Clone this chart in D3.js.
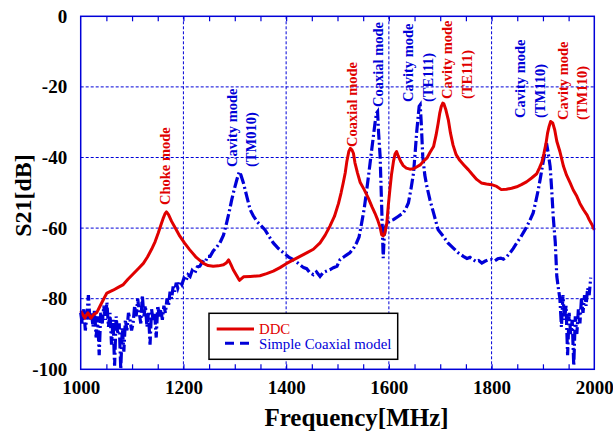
<!DOCTYPE html>
<html><head><meta charset="utf-8">
<script src="https://cdn.jsdelivr.net/npm/d3@7"></script>
<style>html,body{margin:0;padding:0;background:#fff;}svg{display:block;}</style>
</head><body>
<svg id="chart" width="613" height="433"></svg>
<script>
// ---- data ----
const xTicks = [1000, 1200, 1400, 1600, 1800, 2000];
const yTicks = [0, -20, -40, -60, -80, -100];
const seriesNames = ["DDC", "Simple Coaxial model"];

const ddcFreq = [1000,1002,1008,1014,1020,1025,1031,1038,1045,1051,1057,1063,1073,1083,1092,1102,1112,1122,1130,1138,1145,1151,1156,1161,1164,1167,1171,1177,1185,1193,1202,1212,1225,1239,1248,1258,1268,1278,1284,1288,1293,1297,1303,1309,1313,1317,1330,1349,1362,1375,1388,1401,1414,1427,1440,1453,1466,1476,1485,1494,1502,1507,1511,1515,1518,1522,1525,1528,1531,1534,1539,1544,1552,1560,1567,1573,1578,1583,1586,1589,1592,1596,1599,1602,1605,1609,1612,1615,1618,1623,1628,1634,1641,1648,1654,1661,1667,1674,1680,1687,1692,1696,1699,1702,1705,1707,1711,1716,1720,1725,1731,1738,1746,1755,1763,1771,1780,1790,1800,1810,1819,1829,1839,1849,1858,1868,1878,1888,1893,1898,1902,1906,1909,1912,1915,1919,1923,1927,1933,1940,1946,1953,1959,1966,1972,1979,1986,1990,1995,2000];
const ddcS21 = [-83.5,-84,-85.5,-84,-85.5,-84.5,-84,-82,-80,-78.4,-78,-77.6,-76.8,-76,-74.5,-73,-71.5,-70,-68.2,-66,-63.8,-61.4,-59.2,-57.1,-56,-55.4,-56.2,-58.1,-60.2,-62.3,-64.2,-66.1,-68.3,-70,-70.6,-70.8,-70.7,-70.4,-69.8,-69,-70.5,-71.8,-73.3,-74.8,-74.3,-73.8,-73.7,-73.5,-72.9,-72.2,-71.2,-70,-69,-68,-67,-66,-64.2,-62,-59.5,-56.7,-53,-50,-47.3,-44.4,-41.3,-38.3,-37.4,-37.8,-38.8,-41.5,-44.4,-47,-49.1,-51.5,-53.9,-55.8,-57.6,-59.8,-61.9,-62.2,-61.5,-58.6,-53.5,-49.1,-45,-41.1,-39,-38.3,-39.5,-41.1,-42.3,-43,-43.3,-43.2,-42.7,-42.1,-41.1,-40.2,-38.6,-36.9,-33.6,-30.3,-27.5,-25.6,-24.6,-24.8,-26.5,-29.5,-33.1,-36.5,-39.2,-40.8,-42.1,-43.5,-44.9,-46.2,-47.2,-47.5,-47.7,-48.2,-49.1,-49,-48.7,-48.3,-47.7,-46.9,-45.8,-44.6,-43,-41.3,-38.8,-36,-33.1,-31.2,-29.8,-30.2,-32.2,-35.4,-38.3,-42.5,-45,-47.2,-49.2,-51,-53,-54.8,-56.3,-57.6,-58.9,-60.5,-61.9];

const coaxFreq = [1000,1003,1006,1009,1012,1015,1018,1021,1024,1027,1030,1033,1036,1039,1042,1045,1048,1051,1054,1057,1060,1063,1066,1069,1072,1075,1078,1081,1084,1087,1090,1093,1096,1099,1102,1105,1108,1111,1114,1117,1120,1123,1126,1129,1132,1135,1138,1141,1144,1147,1150,1153,1156,1159,1162,1165,1168,1171,1174,1177,1180,1183,1186,1189,1193,1197,1201,1205,1209,1213,1217,1222,1227,1232,1237,1242,1247,1252,1258,1264,1271,1278,1284,1289,1294,1299,1304,1307,1309,1312,1317,1323,1330,1336,1343,1351,1359,1367,1375,1385,1395,1405,1414,1422,1427,1434,1440,1446,1453,1459,1466,1472,1478,1485,1492,1499,1505,1512,1518,1524,1531,1537,1542,1547,1552,1557,1561,1565,1569,1573,1576,1578,1580,1583,1586,1589,1591,1593,1596,1602,1609,1618,1628,1633,1638,1643,1648,1651,1654,1657,1659,1661,1663,1666,1670,1674,1680,1687,1696,1706,1715,1725,1735,1745,1752,1758,1764,1770,1775,1781,1787,1793,1800,1806,1812,1818,1823,1829,1836,1842,1849,1857,1865,1873,1881,1886,1891,1896,1900,1904,1907,1910,1914,1917,1920,1924,1927,1930,1933,1936,1939,1942,1945,1948,1951,1954,1957,1960,1963,1966,1969,1972,1975,1978,1981,1984,1987,1990,1993,1996,2000];
const coaxS21 = [-84,-87,-83,-89,-85,-79,-86,-84,-88,-83,-91,-85,-96,-84,-87,-82,-86,-81,-88,-84,-93,-86,-99,-85,-90,-87,-100,-88,-95,-86,-89,-84,-86,-89,-87,-82,-85,-80,-84,-87,-79,-85,-82,-88,-84,-93,-83,-86,-84,-91,-82,-85,-83,-86,-82,-84,-80,-82,-78,-80,-76.5,-78,-75.5,-77,-75,-76,-74.2,-75,-73.2,-73.7,-72,-72.8,-71,-70.8,-69.5,-69.8,-68,-68,-66.5,-65.5,-64.2,-62,-58.6,-55.5,-52,-49,-46.3,-44.8,-44,-45,-47.3,-50.8,-54.8,-56.5,-58.1,-59.3,-60.5,-62.4,-64.2,-65.8,-67,-68.2,-68.9,-69.8,-70.4,-71.2,-71.5,-72.6,-73.2,-72.4,-73.7,-72.6,-72.2,-71.8,-71.2,-70.8,-68.9,-68.2,-67.6,-67,-65.8,-64.2,-62.5,-58.6,-54.5,-49.1,-44.5,-39.7,-35,-30.3,-27.4,-27,-33,-39.7,-53.9,-68.5,-62.3,-60,-58.6,-58,-57.6,-56.7,-55.7,-54.5,-52.9,-49,-44.4,-39,-33.1,-28.5,-25.5,-25.1,-30,-39.7,-45,-48.2,-52,-55.7,-60.5,-62.3,-64.2,-65.6,-67,-68,-68.6,-68.3,-68.9,-69.5,-69.2,-69.9,-69.4,-69,-68.9,-69.3,-68.7,-68.5,-68.8,-68.2,-67,-65.8,-64.2,-62.5,-60.5,-58.3,-55.7,-52.5,-49.1,-45,-41.6,-38.5,-36,-38.5,-42.5,-49,-56.7,-64,-73.7,-77,-80,-88,-79,-86,-82,-96,-84,-90,-86,-99,-85,-90,-83,-87,-80,-84,-79,-82,-77,-79,-74];

const annotations = [
  {lines:["Choke mode"], x:165.3, y:205, color:"#e00000"},
  {lines:["Cavity mode","(TM010)"], x:231.7, y:167, color:"#0000d8"},
  {lines:["Coaxial mode"], x:352.3, y:147, color:"#e00000"},
  {lines:["Coaxial mode"], x:378.3, y:107, color:"#0000d8"},
  {lines:["Cavity mode","(TE111)"], x:408.3, y:102, color:"#0000d8"},
  {lines:["Cavity mode","(TE111)"], x:447.3, y:99, color:"#e00000"},
  {lines:["Cavity mode","(TM110)"], x:520, y:118, color:"#0000d8"},
  {lines:["Cavity mode","(TM110)"], x:562.7, y:120, color:"#e00000"}
];

// ---- drawing ----
const RED = "#e00000", BLUE = "#0000d8";
const serif = "'Liberation Serif','Times New Roman',serif";
const svg = d3.select("#chart");
const L = 80.7, R = 594.3, T = 16.3, B = 369.3;
const x = d3.scaleLinear().domain([1000, 2000]).range([L, R]);
const y = d3.scaleLinear().domain([-100, 0]).range([B, T]);

// grid
const grid = svg.append("g").attr("stroke", BLUE).attr("stroke-width", 1).attr("stroke-dasharray", "3,2");
grid.selectAll("line.v").data(xTicks.slice(1, -1)).join("line")
  .attr("x1", d => x(d)).attr("x2", d => x(d)).attr("y1", T).attr("y2", B);
grid.selectAll("line.h").data(yTicks.slice(1, -1)).join("line")
  .attr("y1", d => y(d)).attr("y2", d => y(d)).attr("x1", L).attr("x2", R);

// minor ticks (top and bottom, inward)
const minor = d3.range(1050, 2000, 50);
const tb = svg.append("g").attr("transform", `translate(0,${B})`)
  .call(d3.axisBottom(x).tickValues(minor).tickSize(-5).tickFormat(""));
const tt = svg.append("g").attr("transform", `translate(0,${T})`)
  .call(d3.axisTop(x).tickValues(minor).tickSize(-5).tickFormat(""));
[tb, tt].forEach(g => { g.select(".domain").remove(); g.selectAll("line").attr("stroke", BLUE).attr("stroke-width", 1.2); });

// tick labels
const fmt = d => String(d);
const xa = svg.append("g").attr("transform", `translate(0,${B})`)
  .call(d3.axisBottom(x).tickValues(xTicks).tickSize(0).tickPadding(11.5).tickFormat(fmt));
const ya = svg.append("g").attr("transform", `translate(${L},0)`)
  .call(d3.axisLeft(y).tickValues(yTicks).tickSize(0).tickPadding(13.5).tickFormat(fmt));
[xa, ya].forEach(g => {
  g.select(".domain").remove();
  g.selectAll("text").attr("font-family", serif).attr("font-weight", "bold").attr("font-size", 19).attr("fill", "#000");
});

// curves
const line = d3.line().x(d => x(d[0])).y(d => y(d[1]));
const coaxPts = coaxFreq.map((f, i) => [f, coaxS21[i]]);
const ddcPts = ddcFreq.map((f, i) => [f, ddcS21[i]]);
svg.append("path").datum(coaxPts).attr("d", line).attr("fill", "none")
  .attr("stroke", BLUE).attr("stroke-width", 3.2).attr("stroke-dasharray", "11,3,2,3");
svg.append("path").datum(ddcPts).attr("d", line).attr("fill", "none")
  .attr("stroke", RED).attr("stroke-width", 3).attr("stroke-linejoin", "round");

// frame
svg.append("rect").attr("x", L).attr("y", T).attr("width", R - L).attr("height", B - T)
  .attr("fill", "none").attr("stroke", BLUE).attr("stroke-width", 1.5);

// annotations
annotations.forEach(a => {
  a.lines.forEach((t, i) => {
    svg.append("text").attr("transform", `translate(${a.x + i * 19.5},${a.y}) rotate(-90)`)
      .attr("dy", "0.35em").attr("font-family", serif).attr("font-weight", "bold")
      .attr("font-size", 14.5).attr("fill", a.color).text(t);
  });
});

// legend
const lg = svg.append("g");
lg.append("rect").attr("x", 209).attr("y", 313.3).attr("width", 188.7).attr("height", 46)
  .attr("fill", "#fff").attr("stroke", "#000").attr("stroke-width", 1.5);
lg.append("line").attr("x1", 216.7).attr("x2", 254).attr("y1", 329).attr("y2", 329)
  .attr("stroke", RED).attr("stroke-width", 3);
lg.append("line").attr("x1", 225).attr("x2", 254).attr("y1", 343.3).attr("y2", 343.3)
  .attr("stroke", BLUE).attr("stroke-width", 3).attr("stroke-dasharray", "9,6");
lg.append("text").attr("x", 259).attr("y", 333.8).attr("font-family", serif).attr("font-size", 14.8)
  .attr("fill", RED).text(seriesNames[0]);
lg.append("text").attr("x", 259).attr("y", 349.2).attr("font-family", serif).attr("font-size", 14.8)
  .attr("fill", BLUE).text(seriesNames[1]);

// axis titles
svg.append("text").attr("x", 356.5).attr("y", 425.5).attr("text-anchor", "middle")
  .attr("font-family", serif).attr("font-weight", "bold").attr("font-size", 25).text("Frequency[MHz]");
svg.append("text").attr("transform", "translate(22.5,195.5) rotate(-90)").attr("text-anchor", "middle")
  .attr("dy", "0.35em").attr("font-family", serif).attr("font-weight", "bold").attr("font-size", 24).text("S21[dB]");
</script>
</body></html>
